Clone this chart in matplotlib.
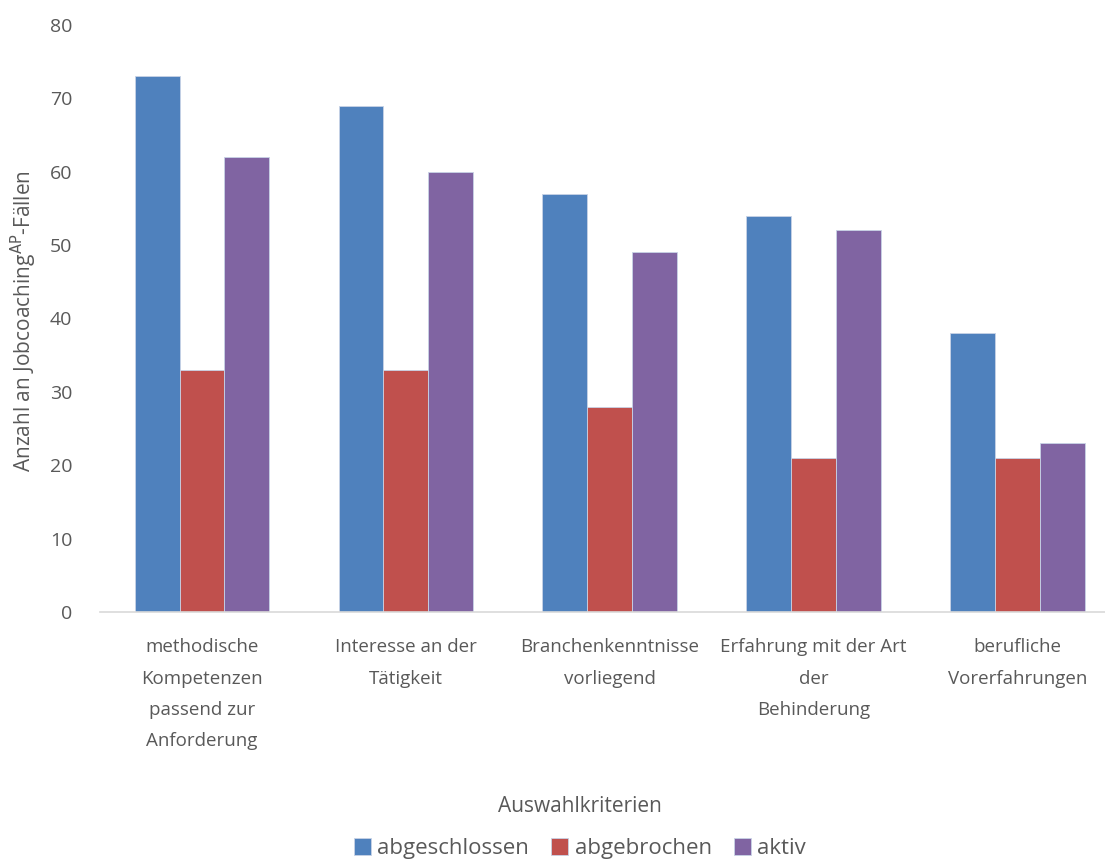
import numpy as np
import matplotlib.pyplot as plt

# data
kriterien = ['methodische\nKompetenzen\npassend zur\nAnforderung',
             'Interesse an der\nTätigkeit',
             'Branchenkenntnisse\nvorliegend',
             'Erfahrung mit der Art\nder\nBehinderung',
             'berufliche\nVorerfahrungen']
abgeschlossen = [73, 69, 57, 54, 38]
abgebrochen   = [33, 33, 28, 21, 21]
aktiv         = [62, 60, 49, 52, 23]

series = [('abgeschlossen', abgeschlossen, '#4F81BD'),
          ('abgebrochen', abgebrochen, '#C0504D'),
          ('aktiv', aktiv, '#8064A2')]

plt.rcParams['font.family'] = ['Open Sans', 'DejaVu Sans']
grey = '#595959'

fig = plt.figure(figsize=(11.05, 8.59), dpi=100)
ax = fig.add_axes([0.0905, 0.2875, 0.9095, 0.6835])

x = np.arange(len(kriterien))
w = 0.22
for i, (name, vals, col) in enumerate(series):
    ax.bar(x + (i - 1) * w, vals, w, color=col, label=name,
           edgecolor='#c8d3e6', linewidth=0.6)

ax.set_xlim(-0.5, 4.43)
ax.set_ylim(0, 80)
ax.set_yticks(range(0, 81, 10))
ax.set_xticks(x)
ax.set_xticklabels(kriterien, fontsize=13.5, color=grey, linespacing=1.95)
ax.tick_params(axis='y', labelsize=14, labelcolor=grey, length=0, pad=20)
ax.tick_params(axis='x', length=0, pad=19)

for s in ['top', 'right', 'left']:
    ax.spines[s].set_visible(False)
ax.spines['bottom'].set_color('#D9D9D9')
ax.spines['bottom'].set_linewidth(1.2)

fig.text(0.022, 0.6265, 'Anzahl an Jobcoaching$^{\\mathrm{AP}}$-Fällen',
         rotation=90, ha='center', va='center', fontsize=15, color=grey)
fig.text(0.525, 0.061, 'Auswahlkriterien', ha='center', va='center',
         fontsize=15, color=grey)

fig.legend(loc='center', bbox_to_anchor=(0.525, 0.012), ncol=3, frameon=False,
           fontsize=16, labelcolor=grey, handlelength=0.75, handleheight=0.75,
           handletextpad=0.3, columnspacing=1.0)

fig.savefig('out.png', dpi=100)
